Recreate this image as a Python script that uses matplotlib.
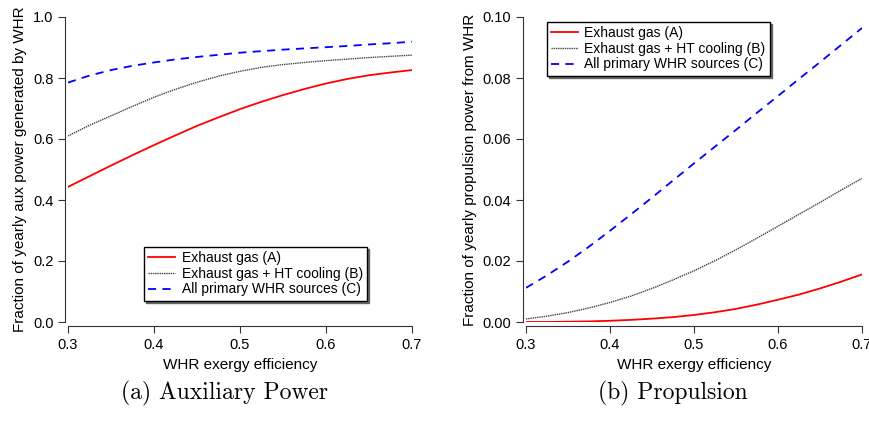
import numpy as np
import matplotlib
matplotlib.use("Agg")
import matplotlib.pyplot as plt

plt.rcParams['font.family'] = ['Liberation Sans', 'DejaVu Sans']

eff = [0.300, 0.325, 0.350, 0.375, 0.400, 0.425, 0.450, 0.475, 0.500,
       0.525, 0.550, 0.575, 0.600, 0.625, 0.650, 0.675, 0.700]

# (a) auxiliary power
aux_a = [0.443, 0.478, 0.513, 0.547, 0.580, 0.612, 0.643, 0.671, 0.698,
         0.722, 0.744, 0.764, 0.782, 0.797, 0.809, 0.818, 0.826]
aux_b = [0.610, 0.645, 0.676, 0.707, 0.737, 0.763, 0.786, 0.806, 0.822,
         0.835, 0.844, 0.851, 0.857, 0.862, 0.867, 0.871, 0.875]
aux_c = [0.785, 0.808, 0.826, 0.840, 0.851, 0.861, 0.869, 0.876, 0.883,
         0.888, 0.893, 0.897, 0.901, 0.905, 0.910, 0.914, 0.919]

# (b) propulsion
prop_a = [0.0000, 0.0000, 0.0001, 0.0002, 0.0004, 0.0007, 0.0011, 0.0016, 0.0023,
          0.0032, 0.0043, 0.0057, 0.0073, 0.0090, 0.0110, 0.0132, 0.0156]
prop_b = [0.0010, 0.0019, 0.0031, 0.0046, 0.0064, 0.0085, 0.0110, 0.0138, 0.0168,
          0.0201, 0.0237, 0.0275, 0.0314, 0.0353, 0.0392, 0.0432, 0.0471]
prop_c = [0.0112, 0.0153, 0.0198, 0.0247, 0.0299, 0.0353, 0.0408, 0.0464, 0.0520,
          0.0575, 0.0630, 0.0686, 0.0741, 0.0797, 0.0852, 0.0908, 0.0964]

labels = ["Exhaust gas (A)", "Exhaust gas + HT cooling (B)", "All primary WHR sources (C)"]
captions = ["(a) Auxiliary Power", "(b) Propulsion"]

fig = plt.figure(figsize=(8.7, 4.21), dpi=100)
ax1 = fig.add_axes([68 / 870, 99 / 421, 344 / 870, 305 / 421])
ax2 = fig.add_axes([526 / 870, 99 / 421, 336 / 870, 305 / 421])


def style_axes(ax):
    for s in ["top", "right"]:
        ax.spines[s].set_visible(False)
    ax.spines["left"].set_position(("outward", 2))
    ax.spines["bottom"].set_position(("outward", 3))
    ax.spines["left"].set_color("#333333")
    ax.spines["bottom"].set_color("#333333")
    ax.tick_params(direction="out", length=5, width=0.8, labelsize=10.5, colors="#333333",
                   labelcolor="black")
    ax.set_xlim(0.3, 0.7)
    ax.set_xticks([0.3, 0.4, 0.5, 0.6, 0.7])
    ax.set_xlabel("WHR exergy efficiency", fontsize=11)


def draw(ax, a, b, c):
    ax.plot(eff, a, color="red", lw=1.3, label=labels[0])
    ax.plot(eff, b, color="#444444", lw=1.0, linestyle=(0, (1, 0.6)), label=labels[1])
    ax.plot(eff, c, color="blue", lw=1.3, linestyle=(0, (4.5, 3.5)), label=labels[2])


def add_legend(ax, anchor):
    leg = ax.legend(loc="upper left", bbox_to_anchor=anchor, frameon=True, fancybox=False,
                    shadow={"ox": 1.5, "oy": -1.5, "color": "0.4", "alpha": 1},
                    edgecolor="black", fontsize=10, handlelength=1.9,
                    borderpad=0.3, labelspacing=0.12, handletextpad=0.5, borderaxespad=0)
    leg.get_frame().set_linewidth(1.0)
    return leg


draw(ax1, aux_a, aux_b, aux_c)
style_axes(ax1)
ax1.set_ylim(0, 1.0)
ax1.set_yticks([0.0, 0.2, 0.4, 0.6, 0.8, 1.0])
ax1.set_ylabel("Fraction of yearly aux power generated by WHR", fontsize=11)
add_legend(ax1, (0.221, 0.246))

draw(ax2, prop_a, prop_b, prop_c)
style_axes(ax2)
ax2.set_ylim(0, 0.10)
ax2.set_yticks([0.0, 0.02, 0.04, 0.06, 0.08, 0.10])
ax2.set_ylabel("Fraction of yearly propulsion power from WHR", fontsize=11)
add_legend(ax2, (0.0625, 0.984))

fig.text(225 / 870, 1 - 393 / 421, captions[0], fontfamily="cmr10", fontsize=17,
         ha="center", va="center")
fig.text(673 / 870, 1 - 393 / 421, captions[1], fontfamily="cmr10", fontsize=17,
         ha="center", va="center")

fig.savefig("out.png", dpi=100)
